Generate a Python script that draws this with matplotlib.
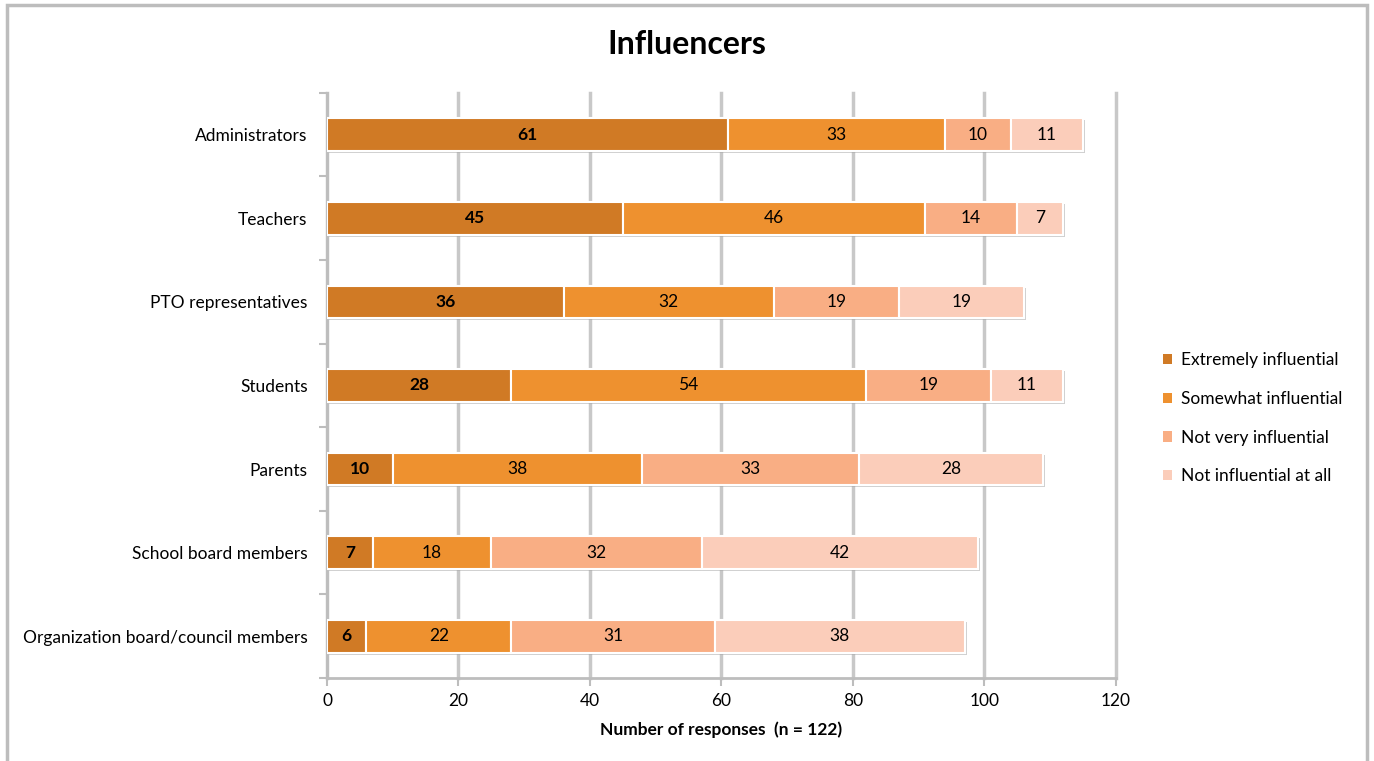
import matplotlib.pyplot as plt
import matplotlib.patheffects as pe
from matplotlib.patches import Rectangle
import numpy as np

plt.rcParams['font.family'] = ['Lato', 'DejaVu Sans']

# categories, top to bottom as in the picture
groups = ["Administrators", "Teachers", "PTO representatives", "Students",
          "Parents", "School board members", "Organization board/council members"]
series = ["Extremely influential", "Somewhat influential",
          "Not very influential", "Not influential at all"]
extremely = [61, 45, 36, 28, 10, 7, 6]
somewhat = [33, 46, 32, 54, 38, 18, 22]
not_very = [10, 14, 19, 19, 33, 32, 31]
not_at_all = [11, 7, 19, 11, 28, 42, 38]
colors = ["#D07A25", "#EE912F", "#F9AE84", "#FBCDBA"]

fig = plt.figure(figsize=(13.74, 7.61), dpi=100)
# grey frame round the whole chart
fig.patches.append(Rectangle((0.005, -0.01), 0.99, 1.003, transform=fig.transFigure,
                             fill=False, edgecolor="#BDBDBD", linewidth=2.5))
ax = fig.add_axes([0.238, 0.109, 0.574, 0.769])

y = np.arange(len(groups))
left = np.zeros(len(groups))
shadow = [pe.SimplePatchShadow(offset=(1.5, -1.5), shadow_rgbFace="#A0A0A0", alpha=0.5),
          pe.Normal()]
for i, vals in enumerate([extremely, somewhat, not_very, not_at_all]):
    bars = ax.barh(y, vals, left=left, height=0.39, color=colors[i],
                   edgecolor="white", linewidth=1.5, label=series[i], zorder=3)
    for b in bars:
        b.set_path_effects(shadow)
    for yy, l, v in zip(y, left, vals):
        ax.text(l + v / 2, yy, str(v), ha="center", va="center", fontsize=12.5,
                fontweight="bold" if i == 0 else "normal", color="black", zorder=4)
    left += np.array(vals)

ax.set_ylim(len(groups) - 0.5, -0.5)
ax.set_xlim(0, 120)
ax.set_xticks(range(0, 121, 20))
ax.set_yticks(y)
ax.set_yticklabels(groups, fontsize=12.5)
ax.set_yticks(np.arange(-0.5, len(groups), 1), minor=True)
ax.tick_params(axis="y", which="major", length=0, pad=14)
ax.tick_params(axis="y", which="minor", length=6, width=1.5, color="#BDBDBD")
ax.tick_params(axis="x", length=6, width=1.5, color="#BDBDBD", labelsize=12.5, pad=5)
ax.grid(axis="x", color="#C8C8C8", linewidth=2.5, zorder=0)
for gl in ax.get_xgridlines():
    gl.set_clip_on(False)
for s in ["top", "right"]:
    ax.spines[s].set_visible(False)
for s in ["left", "bottom"]:
    ax.spines[s].set_color("#BDBDBD")
    ax.spines[s].set_linewidth(2)

ax.set_xlabel("Number of responses  (n = 122)", fontsize=12.5, fontweight="bold", labelpad=9)
fig.suptitle("Influencers", fontsize=23, fontweight="bold", y=0.96)

leg = ax.legend(loc="center left", bbox_to_anchor=(1.04, 0.444), frameon=False, fontsize=12.5,
                handlelength=0.55, handleheight=0.55, labelspacing=1.3, handletextpad=0.5)
for h in leg.legend_handles:
    h.set_path_effects([])
    h.set_edgecolor("none")

fig.savefig("out.png", dpi=100)
